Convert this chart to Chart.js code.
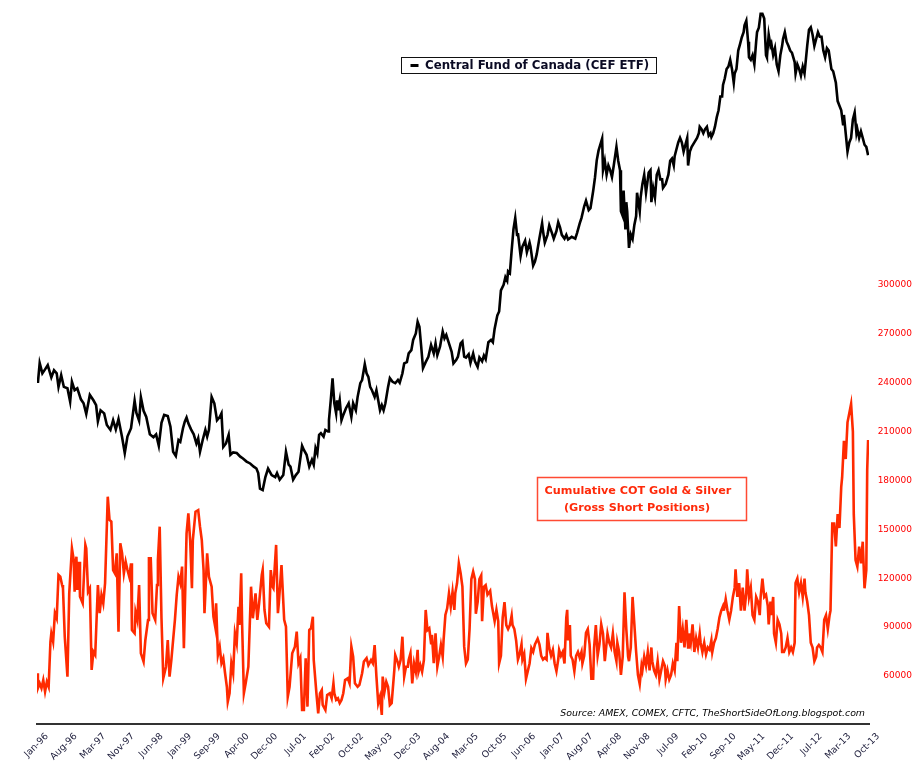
<!DOCTYPE html>
<html>
<head>
<meta charset="utf-8">
<script src="https://cdn.jsdelivr.net/npm/chart.js@4.4.1/dist/chart.umd.min.js"></script>
<style>
html,body{margin:0;padding:0;background:#fff;}
#wrap{width:917px;height:771px;}
</style>
</head>
<body>
<div id="wrap"><canvas id="c" width="917" height="771" style="width:917px;height:771px"></canvas></div>
<script>
// Weekly x axis: week index since first week of Jan 1996; one label every 32 weeks
const tickLabels = ["Jan-96","Aug-96","Mar-97","Nov-97","Jun-98","Jan-99","Sep-99","Apr-00","Dec-00","Jul-01","Feb-02","Oct-02","May-03","Dec-03","Aug-04","Mar-05","Oct-05","Jun-06","Jan-07","Aug-07","Apr-08","Nov-08","Jul-09","Feb-10","Sep-10","May-11","Dec-11","Jul-12","Mar-13","Oct-13"];
const weeksPerLabel = 32;

// Central Fund of Canada (CEF) price, USD (hidden log axis)
const cefWeeks = [0,1,3,6,9,12,16,19,22,24,27,30,34,37,39,42,45,49,52,55,59,63,66,68,71,75,78,82,85,88,91,95,98,101,105,109,111,114,116,119,122,126,130,133,136,139,142,146,149,152,155,158,160,163,165,167,169,172,175,178,180,182,185,188,190,192,195,198,201,204,206,208,211,214,216,219,223,227,230,234,238,242,245,247,249,252,255,258,262,266,268,271,275,278,281,283,286,289,292,296,298,301,304,307,309,311,313,315,317,320,322,325,326,328,330,332,334,335,336,338,340,342,345,348,351,353,356,358,361,363,366,368,370,372,374,377,379,381,383,385,387,389,392,394,397,400,403,405,408,410,413,415,418,420,423,425,427,429,431,434,437,440,443,445,447,450,453,455,457,460,463,465,468,470,473,475,477,479,482,484,487,489,492,494,497,499,501,504,507,509,511,514,516,518,521,523,525,526,528,530,532,534,536,537,540,542,545,547,550,551,554,556,558,561,564,565,567,570,572,575,577,580,582,584,586,589,591,593,597,601,603,606,608,611,613,616,618,621,623,625,627,631,632,634,636,638,640,642,644,647,649,651,652,654,655,657,658,659,661,663,665,667,669,670,673,674,676,678,680,683,685,686,688,690,692,694,696,698,699,702,705,707,709,711,712,714,716,718,720,722,724,726,727,729,731,734,737,739,740,742,744,746,748,750,752,753,755,757,759,761,763,765,766,768,770,772,774,776,778,779,781,783,785,787,789,790,792,794,795,797,799,801,803,804,806,808,810,812,814,815,817,819,820,822,824,826,828,830,832,833,835,837,839,841,843,846,847,849,851,853,855,857,858,860,862,864,866,868,870,872,874,876,878,880,882,884,887,889,892,894,896,898,900,901,903,905,907,909,911,913,915,916,918,920,922,924,926,928];
const cefValues = [5.61,5.51,5.96,5.72,5.81,5.91,5.63,5.79,5.72,5.42,5.68,5.42,5.39,5.11,5.53,5.35,5.39,5.16,5.08,4.87,5.25,5.14,5.04,4.73,4.94,4.88,4.66,4.57,4.75,4.58,4.77,4.44,4.17,4.45,4.60,5.13,4.89,4.74,5.20,4.93,4.81,4.49,4.44,4.49,4.29,4.70,4.85,4.83,4.63,4.19,4.12,4.39,4.36,4.60,4.72,4.80,4.69,4.58,4.49,4.33,4.42,4.19,4.39,4.57,4.45,4.57,5.21,5.08,4.75,4.81,4.88,4.27,4.33,4.48,4.14,4.18,4.17,4.11,4.08,4.03,4.00,3.95,3.92,3.85,3.62,3.60,3.79,3.92,3.82,3.79,3.85,3.75,3.82,4.19,3.98,3.95,3.75,3.82,3.87,4.29,4.22,4.14,3.95,4.06,3.98,4.25,4.16,4.48,4.51,4.45,4.57,4.54,4.75,5.14,5.61,5.08,4.88,5.14,4.94,5.14,4.75,4.85,4.98,5.08,4.81,5.08,4.94,5.21,5.50,5.57,5.93,5.72,5.64,5.42,5.35,5.21,5.35,5.14,4.94,5.04,4.94,5.08,5.42,5.61,5.53,5.50,5.57,5.51,5.72,5.95,5.98,6.19,6.27,6.53,6.70,7.02,6.88,6.36,5.84,5.98,6.11,6.40,6.19,6.44,6.15,6.36,6.75,6.57,6.66,6.44,6.23,5.95,6.03,6.11,6.44,6.49,6.11,6.09,6.17,5.96,6.19,6.00,5.87,6.09,6.00,6.14,6.05,6.47,6.53,6.47,6.83,7.20,7.31,7.95,8.13,8.38,8.26,8.57,8.51,9.32,10.13,10.60,9.91,9.98,9.11,9.46,9.68,9.25,9.61,9.46,8.77,8.91,9.18,9.78,10.37,10.06,9.61,9.91,10.29,9.98,9.76,10.06,10.42,10.21,9.91,9.76,9.91,9.73,9.83,9.76,9.98,10.37,10.60,11.10,11.35,10.93,11.02,11.79,12.43,13.32,13.84,14.52,12.81,13.29,12.58,13.05,12.81,12.46,13.05,14.05,13.29,12.81,10.88,10.68,11.81,10.12,11.28,10.88,9.41,9.93,9.75,10.31,10.68,11.71,10.88,11.50,12.13,12.58,11.71,12.69,12.81,11.28,11.94,11.50,12.58,12.81,12.35,12.35,11.94,12.13,12.58,13.29,13.41,13.05,13.54,13.92,14.30,14.56,14.30,13.79,14.17,14.56,13.05,13.79,14.05,14.30,14.56,14.83,15.22,15.08,14.83,15.08,15.22,14.69,14.83,14.61,14.83,15.22,15.80,16.25,17.16,17.16,17.97,18.45,19.14,19.32,19.85,19.14,18.12,18.79,19.14,20.59,21.13,21.71,22.15,22.76,23.18,21.33,20.04,19.85,20.22,19.49,21.33,22.15,22.55,23.82,23.82,23.39,20.22,20.04,21.93,20.98,21.17,20.22,20.79,19.49,18.97,20.22,20.98,21.56,22.15,21.33,20.98,20.59,20.41,19.67,18.79,19.49,19.14,18.63,19.32,18.79,19.49,20.98,22.37,22.58,21.93,20.98,21.56,22.15,21.75,21.75,20.59,20.04,20.79,20.59,19.14,18.97,18.12,16.85,16.54,16.25,15.38,15.95,14.83,13.79,14.30,14.56,15.66,16.10,14.83,15.08,14.56,14.94,14.56,14.17,14.05,13.59];

// Cumulative COT gold & silver gross short positions (contracts, right axis)
const cotWeeks = [0,1,3,5,7,9,11,13,15,16,18,20,22,24,26,28,29,31,34,36,39,41,42,44,45,47,48,51,54,55,57,59,61,63,65,68,70,72,74,76,79,81,83,85,87,89,91,93,95,97,99,101,103,105,106,109,110,112,114,116,119,121,124,125,127,129,132,134,135,137,139,141,144,146,148,150,152,154,156,158,160,162,164,167,169,171,173,174,177,180,182,184,186,187,190,192,195,197,199,200,202,204,206,208,210,212,213,215,217,219,221,223,225,226,228,229,231,233,236,239,241,244,246,248,251,252,254,256,259,261,263,264,267,269,270,273,276,278,280,282,285,288,290,292,294,296,298,300,302,304,306,308,309,312,314,316,318,319,322,324,327,329,331,332,334,336,338,340,342,344,347,349,351,353,355,358,360,363,365,368,370,373,375,377,379,381,383,385,386,388,390,392,394,396,399,400,402,404,406,408,410,412,414,415,417,419,421,423,425,426,428,430,432,434,436,438,440,441,443,445,447,449,451,453,454,456,458,460,462,464,466,467,469,471,473,475,477,479,481,483,485,487,489,490,492,494,496,497,499,501,503,506,508,511,513,515,516,518,520,522,524,526,528,530,531,533,535,537,539,541,542,544,546,548,550,552,554,556,557,559,561,563,565,567,569,570,572,574,576,578,580,582,583,585,587,589,591,592,593,595,596,598,600,602,604,606,608,609,611,613,615,617,619,621,622,624,626,628,630,632,634,635,637,639,641,643,645,647,648,650,652,654,656,658,660,661,663,665,667,669,671,673,675,676,678,680,682,684,686,687,689,691,693,695,697,699,701,702,704,706,708,710,712,714,715,717,719,721,723,725,727,728,730,732,734,736,738,740,741,743,745,747,749,751,753,754,756,758,760,762,764,766,767,769,771,773,775,777,779,780,782,784,786,788,790,792,793,795,797,799,801,803,805,807,808,810,812,814,816,817,819,820,822,823,825,827,829,831,832,834,836,838,840,842,844,846,847,849,851,853,855,857,858,860,862,864,866,868,870,871,873,875,877,879,881,883,885,886,888,890,892,894,896,898,899,901,903,905,907,909,911,912,914,916,918,920,922,924,926,927,928];
const cotValues = [61700,52500,55500,52500,57500,50400,56500,53400,81000,86200,81000,98500,95400,122000,120900,115800,113800,84100,59600,110700,138300,131200,111700,133200,112800,130100,108700,104600,140400,138300,111700,113800,63700,74900,72900,115800,98500,109700,104600,116900,170000,155700,154700,125000,123000,135300,87200,141400,135300,123000,130100,125000,120900,129100,88200,86200,99400,94400,115800,73900,68800,82100,94400,132200,132200,98500,94400,115800,131200,151600,95400,58600,65700,82100,59600,69800,82100,94400,109700,120900,116900,127100,77000,147500,159800,143400,113800,143400,160800,161800,151600,143400,125000,98500,135300,120900,114800,96400,90200,104600,72900,78000,67800,70900,61700,53400,44200,49400,67800,61700,86200,80100,102500,91300,123000,92300,49400,55500,65700,114800,95400,110700,94400,104600,122000,125000,100500,92300,90200,125000,114800,113800,140400,98500,104600,128100,94400,90200,47300,53400,73900,78000,87200,67800,70900,39100,39100,70900,41200,88200,89300,96400,69800,49400,37100,49400,51400,42200,39100,48300,49400,46300,55500,49400,45300,46300,43300,45300,49400,57500,58600,55500,78000,71800,55500,53400,54500,61700,68800,70900,66700,69800,67800,79000,59600,43300,47300,36100,59600,50400,56500,53400,42200,43300,63700,72900,69800,65700,69800,84100,59600,65700,65700,69800,73900,55500,67800,62600,76000,62600,66700,62600,69800,100500,88200,89300,80100,85200,67800,86200,65700,71800,79000,71800,82100,97400,101500,110700,102500,111700,100500,110700,116900,129100,123000,114800,78000,67700,70100,88800,119400,124000,119400,98200,105300,119400,121700,93600,114700,115800,109900,112300,102900,93600,100600,93600,67700,72400,95900,105300,91200,88800,91200,97100,91200,88800,81800,70100,73600,79400,70100,73600,58300,63000,67700,77100,74800,79400,80600,82900,79400,72400,70100,71200,70100,86500,77100,72400,76000,67700,63000,70100,76000,72400,74800,67700,95900,100600,81800,91200,72400,70100,63000,72400,74800,71200,74800,67700,72400,86500,88800,79400,58300,58300,77100,91200,72400,79400,91700,86000,69100,74700,86000,80400,77500,86000,74700,69100,80400,74700,60700,71900,111400,88800,71900,69100,77500,108500,91700,74700,60700,55000,66300,63500,71900,66300,74700,63500,77500,69100,63500,60700,69100,57900,63500,69100,66300,57900,63500,57900,60700,67700,63500,80400,69100,102900,80400,88800,77500,94500,77500,86000,80400,91700,74700,83200,77500,86000,80400,74700,80400,73300,77500,76100,81800,74700,80400,83200,88800,95900,100100,102900,100100,107100,100100,94500,100100,108500,114200,125500,108500,117000,100100,114200,100100,111400,125500,108500,114200,97300,94500,108500,105700,97300,108500,119800,108500,109900,102900,91700,105700,97300,108500,86000,80400,94500,91700,86000,74700,74700,77500,83200,74700,77500,74700,80400,117000,119800,111400,117000,108500,119800,111400,105700,97300,80400,77500,69100,71900,77500,79000,77500,74700,94500,97300,88800,97300,100100,153600,153600,139500,159300,150800,176100,181800,204300,193100,215600,221200,226900,209900,159300,131200,127100,139300,129100,142400,113800,125000,186400,204800];

const cotTicks = [60000,90000,120000,150000,180000,210000,240000,270000,300000];

const cefSeries = cefWeeks.map((w, i) => ({x: w, y: cefValues[i]}));
const cotSeries = cotWeeks.map((w, i) => ({x: w, y: cotValues[i]}));

const annotate = {
  id: 'annotate',
  afterDraw(chart) {
    const ctx = chart.ctx;
    ctx.save();
    // CEF legend box
    ctx.fillStyle = '#ffffff';
    ctx.fillRect(401, 57, 256, 16);
    ctx.strokeStyle = '#111111';
    ctx.lineWidth = 1;
    ctx.strokeRect(401.5, 57.5, 255, 16);
    ctx.strokeStyle = '#000000';
    ctx.lineWidth = 3;
    ctx.beginPath(); ctx.moveTo(410.5, 65.5); ctx.lineTo(418.5, 65.5); ctx.stroke();
    ctx.fillStyle = '#0b0b24';
    ctx.font = 'bold 11.8px "DejaVu Sans"';
    ctx.textBaseline = 'middle';
    ctx.textAlign = 'left';
    ctx.fillText('Central Fund of Canada (CEF ETF)', 425, 65.5);
    // COT label box
    ctx.fillStyle = '#ffffff';
    ctx.fillRect(537, 477, 210, 44);
    ctx.strokeStyle = '#ff4a33';
    ctx.lineWidth = 1.5;
    ctx.strokeRect(537.5, 477.5, 209, 43);
    ctx.fillStyle = '#ff2a0a';
    ctx.font = 'bold 11.2px "DejaVu Sans"';
    ctx.textAlign = 'center';
    ctx.fillText('Cumulative COT Gold & Silver', 638, 491);
    ctx.fillText('(Gross Short Positions)', 637, 508);
    // Source note
    ctx.fillStyle = '#000000';
    ctx.font = 'italic 9.4px "DejaVu Sans"';
    ctx.textAlign = 'right';
    ctx.fillText('Source: AMEX, COMEX, CFTC, TheShortSideOfLong.blogspot.com', 865, 714);
    ctx.restore();
  }
};

Chart.defaults.font.family = '"DejaVu Sans", sans-serif';

new Chart(document.getElementById('c'), {
  type: 'line',
  data: {
    datasets: [
      {
        label: 'Central Fund of Canada (CEF ETF)',
        data: cefSeries,
        yAxisID: 'yCef',
        borderColor: '#000000',
        borderWidth: 2.6,
        pointRadius: 0,
        tension: 0,
        fill: false
      },
      {
        label: 'Cumulative COT Gold & Silver (Gross Short Positions)',
        data: cotSeries,
        yAxisID: 'yCot',
        borderColor: '#ff2a00',
        borderWidth: 2.6,
        pointRadius: 0,
        tension: 0,
        fill: false
      }
    ]
  },
  options: {
    responsive: false,
    devicePixelRatio: 1,
    animation: false,
    layout: { padding: { left: 37, right: 5, top: 5, bottom: 0 } },
    plugins: { legend: { display: false }, tooltip: { enabled: false } },
    scales: {
      x: {
        type: 'linear',
        position: 'bottom',
        min: 0,
        max: 929,
        grid: { display: false, drawTicks: false },
        border: { display: true, color: '#333333', width: 2 },
        afterBuildTicks: (scale) => {
          scale.ticks = tickLabels.map((_, i) => ({ value: i * weeksPerLabel }));
        },
        afterFit: (scale) => {
          scale.height = 47;
          scale.paddingLeft = 0; scale.paddingRight = 0;
        },
        ticks: {
          autoSkip: false,
          minRotation: 45,
          maxRotation: 45,
          padding: 7,
          labelOffset: 10,
          color: '#1c1c3a',
          font: { size: 9.3 },
          callback: (value, index) => tickLabels[index]
        }
      },
      yCef: {
        type: 'logarithmic',
        display: false,
        min: 1.4226,
        max: 24.67
      },
      yCot: {
        type: 'linear',
        position: 'right',
        min: 30550,
        max: 471660,
        grid: { display: false, drawTicks: false },
        border: { display: false },
        afterBuildTicks: (scale) => {
          scale.ticks = cotTicks.map(v => ({ value: v }));
        },
        afterFit: (scale) => {
          scale.width = 43;
          scale.paddingTop = 0; scale.paddingBottom = 0;
        },
        ticks: {
          padding: 10,
          crossAlign: 'far',
          color: '#ff0000',
          font: { size: 9 },
          callback: (v) => String(v)
        }
      }
    }
  },
  plugins: [annotate]
});
</script>
</body>
</html>
